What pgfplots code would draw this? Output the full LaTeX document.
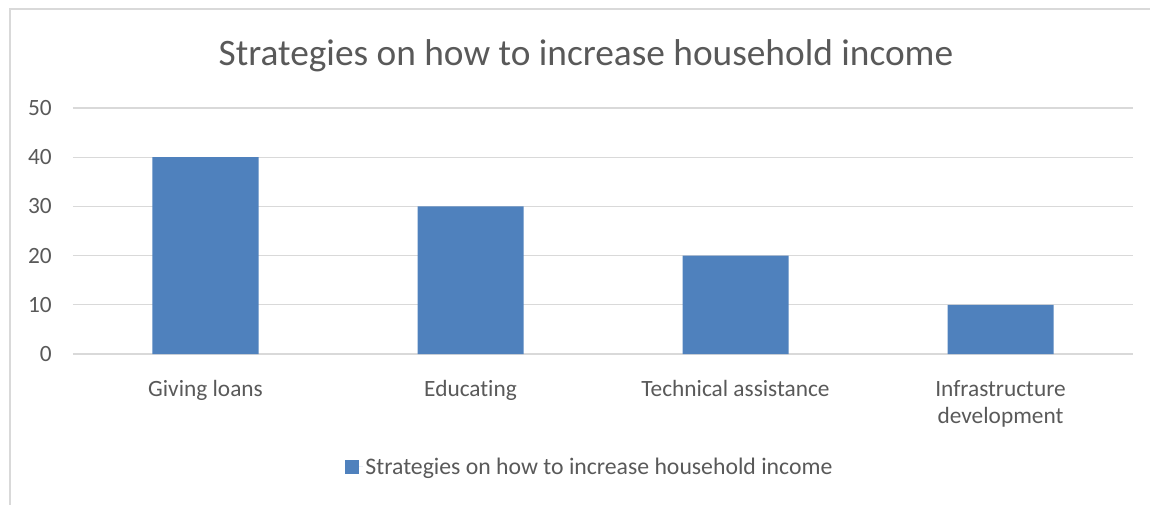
\documentclass[border=0pt]{standalone}
\usepackage{pgfplots}
\pgfplotsset{compat=1.18}
\usepackage{fontspec}
\setmainfont{Carlito}[Ligatures=NoCommon]
\definecolor{barblue}{HTML}{4F81BD}
\definecolor{txt}{HTML}{595959}
\definecolor{gridc}{HTML}{D9D9D9}
\begin{document}
\begin{tikzpicture}
\useasboundingbox (0,0) rectangle (862.5pt,-378pt);
\draw[gridc, line width=1.2pt] (7.5pt,-6.75pt) rectangle (875pt,-392pt);
\node[txt, font=\fontsize{28}{33}\selectfont] at (439.5pt,-41.5pt) {Strategies on how to increase household income};
\begin{axis}[
  at={(54.75pt,-265.5pt)}, anchor=south west,
  scale only axis, width=795pt, height=184.5pt,
  xmin=-0.5, xmax=3.5, ymin=0, ymax=50,
  ytick={0,10,...,50},
  xtick={0,1,2,3},
  xticklabels={Giving loans, Educating, Technical assistance, {Infrastructure\\development}},
  ymajorgrids, grid style={gridc, line width=0.9pt},
  axis line style={draw=none},
  major tick length=0pt,
  ybar, bar width=79.5pt,
  /pgf/number format/assume math mode=true,
  tick label style={txt, font=\fontsize{17.5}{20.5}\selectfont},
  yticklabel style={inner sep=0pt, xshift=-15.75pt},
  xticklabel style={inner sep=0pt, yshift=-19.5pt, align=center},
  legend style={at={(0.4877,-0.459)}, anchor=center, draw=none, fill=none,
    font=\fontsize{17.8}{20}\selectfont, text=txt},
  legend image code/.code={\fill[barblue] (0pt,-5.25pt) rectangle (10.5pt,5.25pt);\path (10.5pt,0) -- (13.5pt,0);},
]
\addplot[fill=barblue, draw=none] coordinates {(0,40) (1,30) (2,20) (3,10)};
\addlegendentry{Strategies on how to increase household income}
\end{axis}
\end{tikzpicture}
\end{document}
